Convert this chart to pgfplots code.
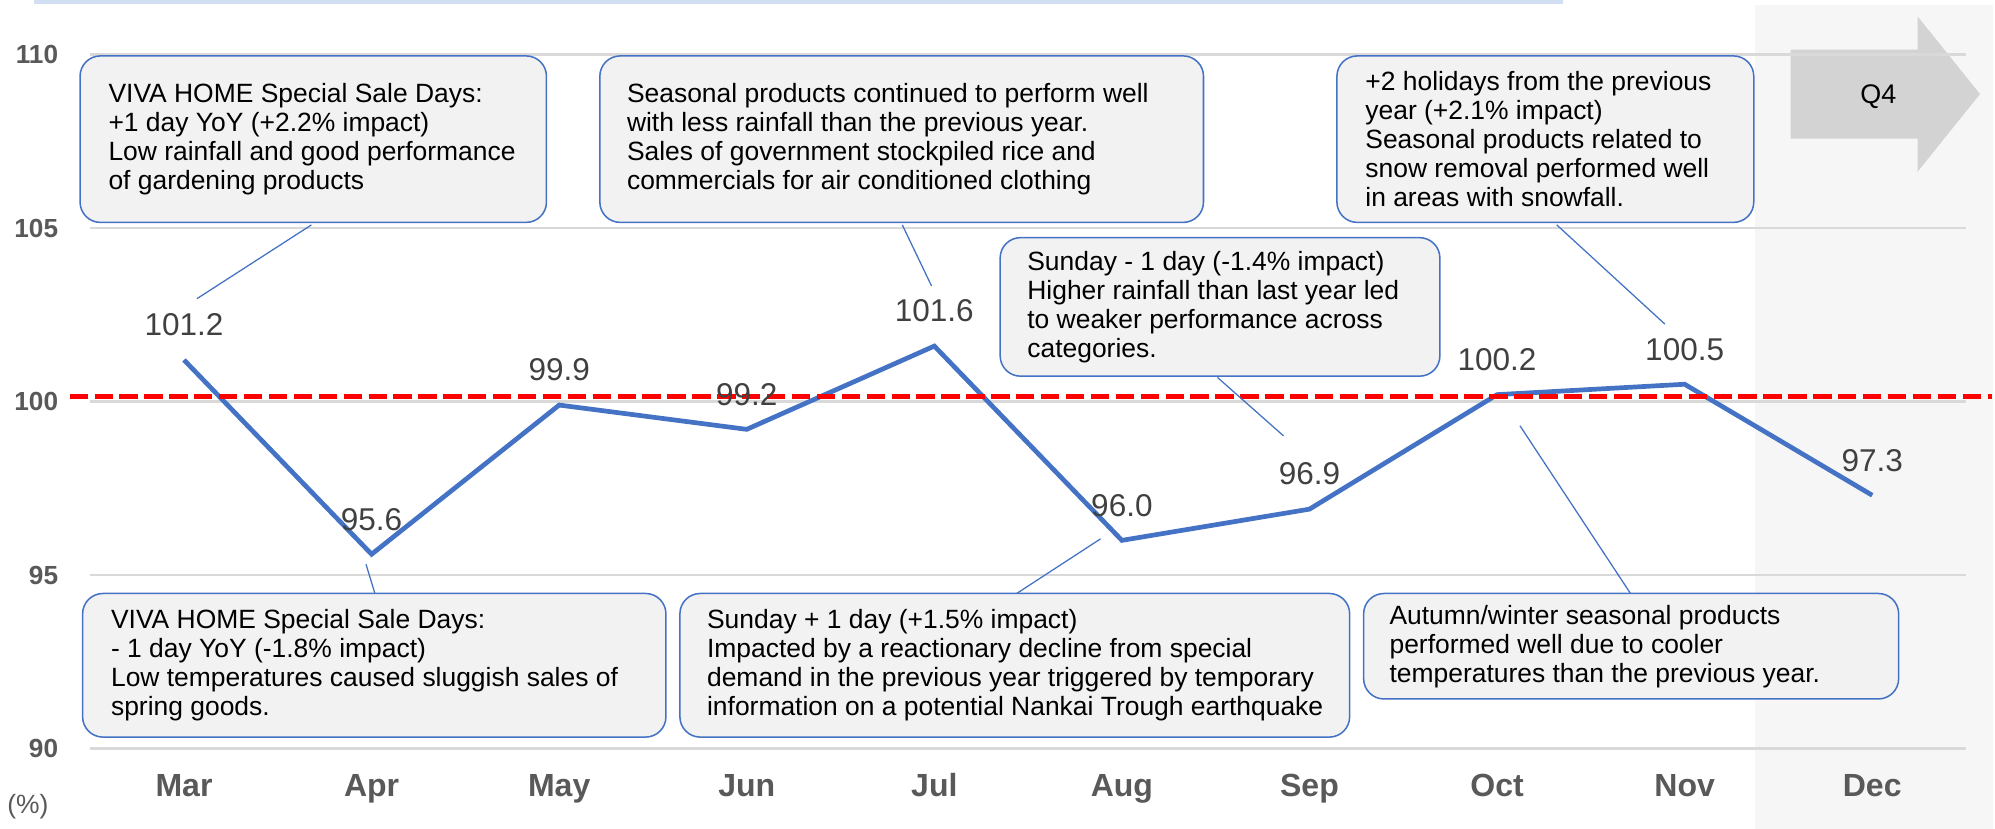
\documentclass[border=0pt]{standalone}
\usepackage{pgfplots}
\pgfplotsset{compat=1.18}
\usepackage{pgfplotstable}
\usepackage{fontspec}
\setmainfont{Liberation Sans}
\definecolor{lineblue}{HTML}{4472C4}
\definecolor{boxfill}{HTML}{F2F2F2}
\definecolor{gridgray}{HTML}{D9D9D9}
\definecolor{labgray}{HTML}{595959}
\definecolor{valgray}{HTML}{404040}
\definecolor{shadegray}{HTML}{F6F6F6}
\definecolor{arrowgray}{HTML}{D3D3D3}
\definecolor{titleblue}{HTML}{D2DFF2}
\definecolor{refred}{HTML}{FF0000}

\pgfplotstableread{
x y label
0 101.2 101.2
1 95.6 95.6
2 99.9 99.9
3 99.2 99.2
4 101.6 101.6
5 96.0 96.0
6 96.9 96.9
7 100.2 100.2
8 100.5 100.5
9 97.3 97.3
}\sales

\begin{document}
\begin{tikzpicture}
\begin{scope}[x=0.5pt,y=-0.5pt]
 \path[use as bounding box] (0,0) rectangle (1568,652);
 \fill[shadegray] (1381,4) rectangle (1568,652);
 \fill[titleblue] (27,0) rectangle (1230,3.5);
 \fill[arrowgray] (1409,39) -- (1509,39) -- (1509,13) -- (1558,74) -- (1509,135) -- (1509,109) -- (1409,109) -- cycle;
 \node[font=\fontsize{10.6pt}{12pt}\selectfont, text=black] at (1478,76) {Q4};
 \node[font=\fontsize{10.4pt}{12pt}\selectfont, text=labgray] at (22,635) {(\%)};
\end{scope}
\begin{axis}[
  at={(35.5pt,-294.5pt)}, anchor=south west,
  scale only axis, width=738pt, height=273pt,
  xmin=-0.5, xmax=9.5, ymin=90, ymax=110,
  axis line style={draw=none},
  ytick={90,95,100,105,110},
  xtick={0,...,9},
  xticklabels={Mar,Apr,May,Jun,Jul,Aug,Sep,Oct,Nov,Dec},
  major tick length=0pt,
  ymajorgrids, grid style={gridgray, line width=1pt},
  xticklabel style={font=\fontsize{12.6pt}{14pt}\selectfont\bfseries, text=labgray, anchor=base, yshift=-19pt},
  yticklabel style={font=\fontsize{10.3pt}{12pt}\selectfont\bfseries, text=labgray, anchor=east, xshift=-9.1pt},
  /pgf/number format/assume math mode=true,
  clip=false,
]
\addplot[lineblue, line width=1.85pt, mark=none,
  nodes near coords, point meta=explicit symbolic,
  every node near coord/.style={anchor=center, yshift=13.8pt, font=\fontsize{12.4pt}{14pt}\selectfont, text=valgray}]
  table[x=x, y=y, meta=label] {\sales};
\addplot[refred, line width=2pt, dash pattern=on 7.2pt off 2.6pt, mark=none]
  coordinates {(-0.61,100.15) (9.641,100.15)};
\end{axis}
\begin{scope}[x=0.5pt,y=-0.5pt]
\tikzset{callout/.style={draw=lineblue, fill=boxfill, rounded corners=8pt, line width=0.6pt},
 ctext/.style={anchor=west, align=left, inner sep=0pt, font=\fontsize{10.4pt}{11.4pt}\selectfont, text=black},
 pointer/.style={draw=lineblue, line width=0.5pt}}
\draw[pointer] (245,177) -- (155,235);
\draw[pointer] (710,177) -- (733,225);
\draw[pointer] (1225,177) -- (1310,255);
\draw[pointer] (958,297) -- (1010,343);
\draw[pointer] (295,467) -- (288,444);
\draw[pointer] (800,467) -- (866,424);
\draw[pointer] (1283,467) -- (1196,335);

\draw[callout] (63,44) rectangle (430,175);
\node[ctext] at (85,109.5) {VIVA HOME Special Sale Days:\\+1 day YoY (+2.2\% impact)\\Low rainfall and good performance\\of gardening products};
\draw[callout] (472,44) rectangle (947,175);
\node[ctext] at (493,109.5) {Seasonal products continued to perform well\\with less rainfall than the previous year.\\Sales of government stockpiled rice and\\commercials for air conditioned clothing};
\draw[callout] (1052,44) rectangle (1380,175);
\node[ctext] at (1074,109.5) {+2 holidays from the previous\\year (+2.1\% impact)\\Seasonal products related to\\snow removal performed well\\in areas with snowfall.};
\draw[callout] (787,187) rectangle (1133,296);
\node[ctext] at (808,241.5) {Sunday - 1 day (-1.4\% impact)\\Higher rainfall than last year led\\to weaker performance across\\categories.};
\draw[callout] (65,467) rectangle (524,580);
\node[ctext] at (87,523.5) {VIVA HOME Special Sale Days:\\- 1 day YoY (-1.8\% impact)\\Low temperatures caused sluggish sales of\\spring goods.};
\draw[callout] (535,467) rectangle (1062,580);
\node[ctext] at (556,523.5) {Sunday + 1 day (+1.5\% impact)\\Impacted by a reactionary decline from special\\demand in the previous year triggered by temporary\\information on a potential Nankai Trough earthquake};
\draw[callout] (1073,467) rectangle (1494,550);
\node[ctext] at (1093,508.5) {Autumn/winter seasonal products\\performed well due to cooler\\temperatures than the previous year.};
\end{scope}
\end{tikzpicture}
\end{document}
